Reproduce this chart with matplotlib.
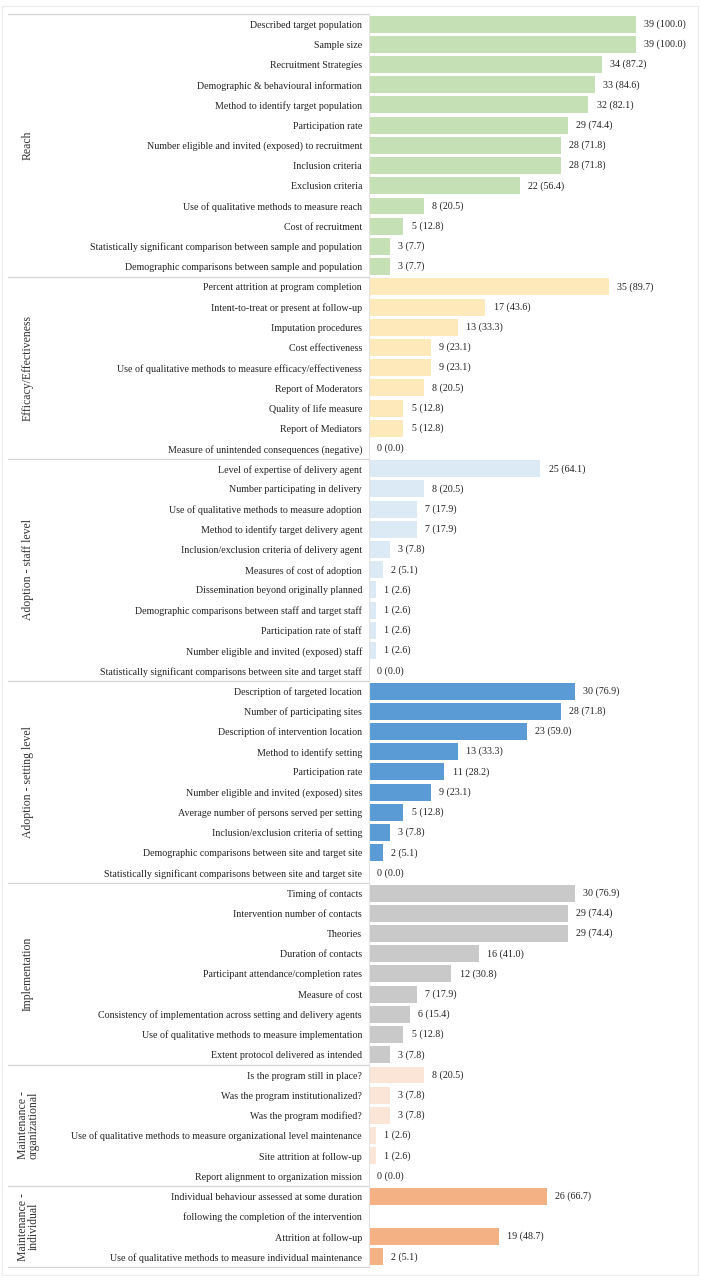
import numpy as np
import matplotlib
matplotlib.use("Agg")
import matplotlib.pyplot as plt
from matplotlib.patches import Rectangle

plt.rcParams['font.family'] = ['Liberation Serif', 'DejaVu Serif']

groups = ["Reach", "Efficacy/Effectiveness", "Adoption - staff level",
          "Adoption - setting level", "Implementation",
          "Maintenance -\norganizational", "Maintenance -\nindividual"]
group_colors = ["#c5e0b4", "#fde9b9", "#dceaf6", "#5b9bd5", "#c9c9c9", "#fbe5d6", "#f4b183"]

reach_items = ["Described target population", "Sample size", "Recruitment Strategies",
               "Demographic & behavioural information", "Method to identify target population",
               "Participation rate", "Number eligible and invited (exposed) to recruitment",
               "Inclusion criteria", "Exclusion criteria", "Use of qualitative methods to measure reach",
               "Cost of recruitment", "Statistically significant comparison between sample and population",
               "Demographic comparisons between sample and population"]
reach_n = [39, 39, 34, 33, 32, 29, 28, 28, 22, 8, 5, 3, 3]
reach_pct = [100.0, 100.0, 87.2, 84.6, 82.1, 74.4, 71.8, 71.8, 56.4, 20.5, 12.8, 7.7, 7.7]

eff_items = ["Percent attrition at program completion", "Intent-to-treat or present at follow-up",
             "Imputation procedures", "Cost effectiveness",
             "Use of qualitative methods to measure efficacy/effectiveness", "Report of Moderators",
             "Quality of life measure", "Report of Mediators",
             "Measure of unintended consequences (negative)"]
eff_n = [35, 17, 13, 9, 9, 8, 5, 5, 0]
eff_pct = [89.7, 43.6, 33.3, 23.1, 23.1, 20.5, 12.8, 12.8, 0.0]

staff_items = ["Level of expertise of delivery agent", "Number participating in delivery",
               "Use of qualitative methods to measure adoption", "Method to identify target delivery agent",
               "Inclusion/exclusion criteria of delivery agent", "Measures of cost of adoption",
               "Dissemination beyond originally planned", "Demographic comparisons between staff and target staff",
               "Participation rate of staff", "Number eligible and invited (exposed) staff",
               "Statistically significant comparisons between site and target staff"]
staff_n = [25, 8, 7, 7, 3, 2, 1, 1, 1, 1, 0]
staff_pct = [64.1, 20.5, 17.9, 17.9, 7.8, 5.1, 2.6, 2.6, 2.6, 2.6, 0.0]

setting_items = ["Description of targeted location", "Number of participating sites",
                 "Description of intervention location", "Method to identify setting",
                 "Participation rate", "Number eligible and invited (exposed) sites",
                 "Average number of persons served per setting", "Inclusion/exclusion criteria of setting",
                 "Demographic comparisons between site and target site",
                 "Statistically significant comparisons between site and target site"]
setting_n = [30, 28, 23, 13, 11, 9, 5, 3, 2, 0]
setting_pct = [76.9, 71.8, 59.0, 33.3, 28.2, 23.1, 12.8, 7.8, 5.1, 0.0]

impl_items = ["Timing of contacts", "Intervention number of contacts", "Theories",
              "Duration of contacts", "Participant attendance/completion rates", "Measure of cost",
              "Consistency of implementation across setting and delivery agents",
              "Use of qualitative methods to measure implementation", "Extent protocol delivered as intended"]
impl_n = [30, 29, 29, 16, 12, 7, 6, 5, 3]
impl_pct = [76.9, 74.4, 74.4, 41.0, 30.8, 17.9, 15.4, 12.8, 7.8]

morg_items = ["Is the program still in place?", "Was the program institutionalized?",
              "Was the program modified?",
              "Use of qualitative methods to measure organizational level maintenance",
              "Site attrition at follow-up", "Report alignment to organization mission"]
morg_n = [8, 3, 3, 1, 1, 0]
morg_pct = [20.5, 7.8, 7.8, 2.6, 2.6, 0.0]

# second label line of the first item has no bar of its own
mind_items = ["Individual behaviour assessed at some duration",
              "following the completion of the intervention",
              "Attrition at follow-up", "Use of qualitative methods to measure individual maintenance"]
mind_n = [26, None, 19, 2]
mind_pct = [66.7, None, 48.7, 5.1]

all_items = [reach_items, eff_items, staff_items, setting_items, impl_items, morg_items, mind_items]
all_n = [reach_n, eff_n, staff_n, setting_n, impl_n, morg_n, mind_n]
all_pct = [reach_pct, eff_pct, staff_pct, setting_pct, impl_pct, morg_pct, mind_pct]

W, H = 702, 1281
fig = plt.figure(figsize=(W / 100, H / 100), dpi=100)
ax_left, ax_right = 369, 697
ax_top, ax_bot = 14, 1267
ax = fig.add_axes([ax_left / W, 1 - ax_bot / H, (ax_right - ax_left) / W, (ax_bot - ax_top) / H])

labels = []
row = 0
bounds = [0]
for items, ns, pcts, color, gname in zip(all_items, all_n, all_pct, group_colors, groups):
    start = row
    for item, n, p in zip(items, ns, pcts):
        labels.append(item)
        if n is not None:
            ax.barh(row, n, height=0.84, color=color)
            ax.annotate(f"{n} ({p:.1f})", (n, row), xytext=(6, 0), textcoords="offset points",
                        va="center", ha="left", fontsize=7.2, color="#222222")
        row += 1
    bounds.append(row)
    ax.text((28 - ax_left) / (ax_right - ax_left), (start + row - 1) / 2, gname,
            transform=ax.get_yaxis_transform(), rotation=90, ha="center", va="center",
            fontsize=8.5, linespacing=0.85, color="#333333")

n_rows = row
ax.set_ylim(n_rows - 0.5, -0.5)
ax.set_xlim(0, (ax_right - ax_left) / 6.85)
ax.set_yticks(np.arange(n_rows))
ax.set_yticklabels(labels, fontsize=7.2, color="#222222")
ax.tick_params(axis="y", length=0, pad=5)
ax.set_xticks([])
for s in ["top", "right", "bottom"]:
    ax.spines[s].set_visible(False)
ax.spines["left"].set_color("#e4e4e4")
ax.spines["left"].set_linewidth(0.8)

# group separators across the label area
x0 = (8 - ax_left) / (ax_right - ax_left)
for b in bounds:
    ax.plot([x0, 0], [b - 0.5, b - 0.5], transform=ax.get_yaxis_transform(),
            color="#d4d4d4", lw=0.9, clip_on=False)

fig.patches.append(Rectangle((2 / W, 0.005), 696 / W, 0.99, transform=fig.transFigure,
                             fill=False, edgecolor="#ececec", lw=0.8))

fig.savefig("out.png", dpi=100, facecolor="white")
